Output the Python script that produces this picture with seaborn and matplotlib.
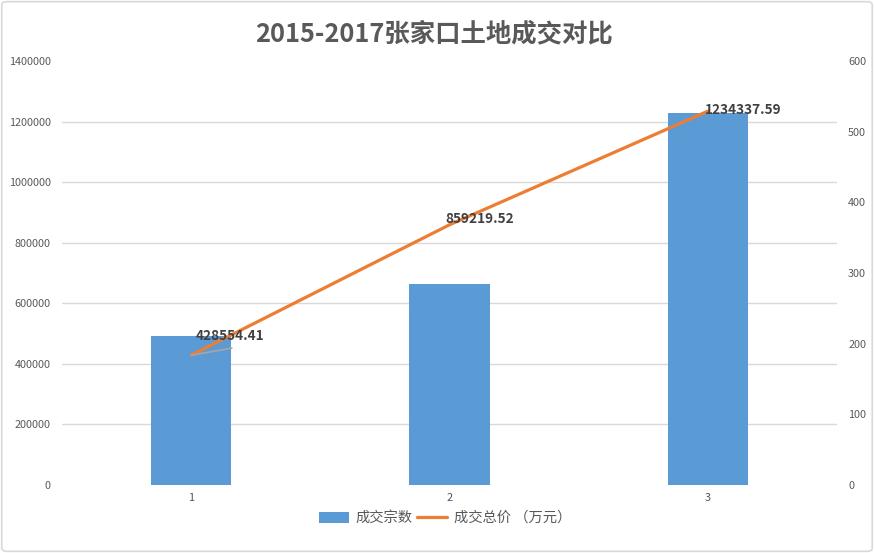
import matplotlib
matplotlib.use("Agg")
import matplotlib.pyplot as plt
import seaborn as sns
import pandas as pd
import numpy as np
from matplotlib.patches import FancyBboxPatch, Patch
from matplotlib.lines import Line2D

# ---- data ----
categories = ["1", "2", "3"]
deal_counts = [211, 284, 526]                       # 成交宗数 (right axis)
deal_totals = [428554.41, 859219.52, 1234337.59]    # 成交总价 (left axis)
left_ticks = [0, 200000, 400000, 600000, 800000, 1000000, 1200000, 1400000]
right_ticks = [0, 100, 200, 300, 400, 500, 600]

title = "2015-2017张家口土地成交对比"
bar_name = "成交宗数"
line_name = "成交总价 （万元）"

df = pd.DataFrame({"cat": categories, "count": deal_counts, "total": deal_totals})

sns.set_theme(style="white")
plt.rcParams["font.family"] = ["Noto Sans CJK SC", "DejaVu Sans"]

BAR_C = "#5B9BD5"
LINE_C = "#ED7D31"
TXT = "#595959"
GRID = "#D9D9D9"

fig = plt.figure(figsize=(8.74, 5.53), dpi=100)
ax_bar = fig.add_axes([62 / 874, 1 - 485 / 553, (837 - 62) / 874, (485 - 61) / 553])
ax_line = ax_bar.twinx()
ax_bar.set_zorder(0)
ax_line.set_zorder(1)
ax_line.patch.set_visible(False)

# bars (right scale)
sns.barplot(data=df, x="cat", y="count", ax=ax_bar, color=BAR_C, width=0.31,
            saturation=1, linewidth=0, edgecolor="none", zorder=2)
ax_bar.set_xlim(-0.5, 2.5)
ax_bar.set_ylim(right_ticks[0], right_ticks[-1])
ax_bar.yaxis.tick_right()
ax_bar.set_yticks(right_ticks)
ax_bar.set_yticklabels([str(t) for t in right_ticks])
# grid follows the left scale
rmax = right_ticks[-1]
lmax = left_ticks[-1]
ax_bar.set_yticks([t * rmax / lmax for t in left_ticks], minor=True)
ax_bar.grid(which="minor", axis="y", color=GRID, linewidth=1, zorder=0)
ax_bar.grid(which="major", visible=False)
ax_bar.set_axisbelow(True)
ax_bar.tick_params(axis="y", which="both", length=0, pad=8, labelsize=7.8, labelcolor=TXT,
                   right=False, left=False, labelright=True, labelleft=False)
ax_bar.tick_params(axis="x", length=0, pad=6, labelsize=7.8, labelcolor="#44546A")
ax_bar.set_xlabel("")
ax_bar.set_ylabel("")

# line (left scale)
xpos = np.arange(len(categories))
sns.lineplot(x=xpos, y=df["total"].values, ax=ax_line, color=LINE_C, linewidth=2.3,
             zorder=3)
ax_line.set_ylim(left_ticks[0], left_ticks[-1])
ax_line.yaxis.tick_left()
ax_line.set_yticks(left_ticks)
ax_line.set_yticklabels([str(t) for t in left_ticks])
ax_line.tick_params(axis="y", length=0, pad=8, labelsize=7.8, labelcolor=TXT,
                    left=False, right=False, labelleft=True, labelright=False)
ax_line.set_ylabel("")
ax_line.grid(False)

for a in (ax_bar, ax_line):
    for s in a.spines.values():
        s.set_visible(False)

# data labels
offsets = [(5, 19), (-4, 6), (-3, 1)]
for i, v in enumerate(deal_totals):
    dx, dy = offsets[i]
    kw = {}
    if i == 0:
        kw["arrowprops"] = dict(arrowstyle="-", color="#A6A6A6", lw=1.2,
                                shrinkA=0, shrinkB=0, relpos=(0.52, -0.35))
    ax_line.annotate(f"{v:.2f}", xy=(xpos[i], v), xytext=(dx * 0.72, dy * 0.72),
                     textcoords="offset points", ha="left", va="center",
                     fontsize=9.8, fontweight="bold", color="#404040", zorder=5, **kw)

# title
fig.text(434 / 874, 1 - 34 / 553, title, ha="center", va="center",
         fontsize=18.3, fontweight="bold", color=TXT)

# legend
handles = [Patch(facecolor=BAR_C, edgecolor="none"),
           Line2D([0], [0], color=LINE_C, linewidth=2.3)]
fig.legend(handles, [bar_name, line_name], loc="center", ncol=2,
           bbox_to_anchor=(445 / 874, 1 - 518 / 553), frameon=False,
           fontsize=10.3, labelcolor=TXT, handlelength=2.1, handletextpad=0.5,
           columnspacing=0.3, handleheight=0.8)

# chart border
fig.patches.append(FancyBboxPatch((0.002, 0.003), 0.996, 0.994,
                                  boxstyle="round,pad=0,rounding_size=0.006",
                                  transform=fig.transFigure, fill=False,
                                  edgecolor=GRID, linewidth=1.2))

fig.savefig("out.png", dpi=100)
